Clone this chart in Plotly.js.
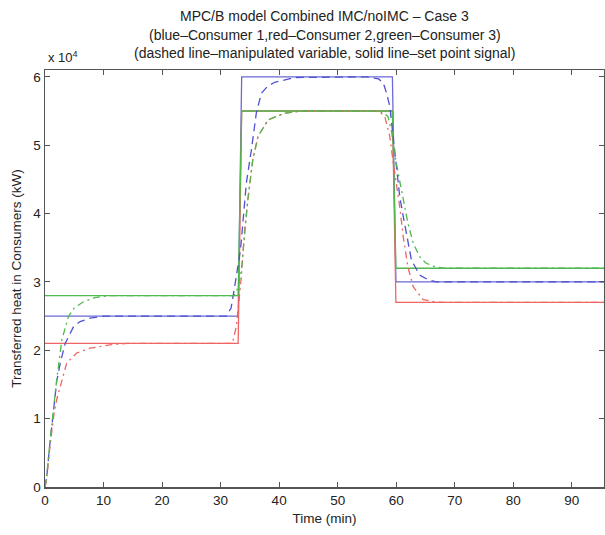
<!DOCTYPE html>
<html>
<head>
<meta charset="utf-8">
<script src="https://cdn.plot.ly/plotly-3.0.1.min.js"></script>
<style>
  html, body { margin: 0; padding: 0; background: #fff; }
  #chart { width: 605px; height: 535px; }
</style>
</head>
<body>
<div id="chart"></div>
<script>
// Heat delivered to three consumers, in units of 1e4 kW, versus time in minutes.

// Set point signals (solid lines)
const spTime      = [0, 33.0, 33.6, 59.35, 59.95, 95.5];
const spConsumer1 = [2.5, 2.5, 6.0, 6.0, 3.0, 3.0];
const spConsumer2 = [2.1, 2.1, 5.5, 5.5, 2.7, 2.7];
const spConsumer3 = [2.8, 2.8, 5.5, 5.5, 3.2, 3.2];

// Manipulated variable, consumer 1 (blue, dashed)
const mvTime1 = [0, 0.3, 0.8, 1.2, 1.5, 2.0, 2.6, 3.45, 4.9, 6.0, 7.7, 10,
                 31.0, 31.8, 32.4, 33.0, 33.4, 33.8, 34.1, 34.4, 35.26, 36.1, 36.97, 38.0, 39.25, 42.7,
                 55, 57.0, 57.8, 58.35, 58.9, 59.5, 60.0, 60.6, 61.2, 62.0, 62.6, 64.0, 65.5, 66.9, 95.5];
const mvConsumer1 = [0, 0.15, 0.6, 0.9, 1.2, 1.55, 1.81, 2.10, 2.35, 2.42, 2.47, 2.5,
                     2.5, 2.62, 2.93, 3.22, 3.47, 3.86, 4.2, 4.45, 4.93, 5.47, 5.76, 5.86, 5.92, 5.99,
                     6.0, 5.97, 5.91, 5.76, 5.57, 5.13, 4.7, 4.25, 3.96, 3.62, 3.32, 3.10, 3.03, 3.0, 3.0];

// Manipulated variable, consumer 2 (red, dash-dot)
const mvTime2 = [0, 0.3, 0.8, 1.2, 1.5, 2.0, 2.6, 3.7, 5.4, 7.7, 11.1, 14,
                 32.0, 32.7, 33.55, 33.8, 34.1, 34.6, 35.5, 36.4, 38.1, 41, 43.9,
                 56.5, 57.3, 58.05, 58.9, 59.5, 60.0, 60.6, 61.2, 62.0, 62.9, 64.6, 66.5, 68, 95.5];
const mvConsumer2 = [0, 0.14, 0.55, 0.85, 1.05, 1.28, 1.47, 1.81, 1.96, 2.03, 2.08, 2.1,
                     2.1, 2.35, 3.08, 3.47, 3.76, 4.15, 4.79, 5.13, 5.37, 5.47, 5.5,
                     5.5, 5.48, 5.42, 5.13, 4.74, 4.45, 4.1, 3.66, 3.22, 2.93, 2.74, 2.71, 2.7, 2.7];

// Manipulated variable, consumer 3 (green, dash-dot)
const mvTime3 = [0, 0.3, 0.8, 1.2, 1.6, 2.0, 2.87, 4.0, 5.0, 6.6, 8.5, 11.1,
                 32.3, 32.8, 33.3, 33.6, 33.9, 34.2, 34.7, 35.5, 36.4, 38.1, 41, 43.9,
                 57.0, 57.8, 58.6, 59.2, 59.8, 60.5, 61.2, 62.0, 62.9, 64.0, 65.0, 66.3, 68, 95.5];
const mvConsumer3 = [0, 0.17, 0.62, 0.95, 1.3, 1.57, 2.15, 2.49, 2.62, 2.71, 2.77, 2.8,
                     2.8, 2.88, 3.05, 3.2, 3.5, 3.8, 4.25, 4.79, 5.13, 5.37, 5.47, 5.5,
                     5.5, 5.47, 5.42, 5.2, 4.84, 4.52, 4.2, 3.86, 3.57, 3.37, 3.28, 3.23, 3.2, 3.2];

const xTicks = [0, 10, 20, 30, 40, 50, 60, 70, 80, 90];
const yTicks = [0, 1, 2, 3, 4, 5, 6];

const BLUE  = '#6a6ad8';
const RED   = '#f06464';
const GREEN = '#4fb84f';

function solid(x, y, color) {
  return { x, y, type: 'scatter', mode: 'lines', hoverinfo: 'skip',
           line: { color, width: 1.3 } };
}
function dashed(x, y, color, dash) {
  return { x, y, type: 'scatter', mode: 'lines', hoverinfo: 'skip',
           line: { color, width: 1.3, dash } };
}

const traces = [
  solid(spTime, spConsumer1, BLUE),
  solid(spTime, spConsumer2, RED),
  solid(spTime, spConsumer3, GREEN),
  dashed(mvTime1, mvConsumer1, '#5050d0', '8px,5px'),
  dashed(mvTime2, mvConsumer2, RED, '7px,4px,2px,4px'),
  dashed(mvTime3, mvConsumer3, GREEN, '7px,4px,2px,4px')
];

const FONT = 'Liberation Sans, Arial, Helvetica, sans-serif';
const TXT = '#222';

const axisCommon = {
  showgrid: false, zeroline: false,
  showline: true, linecolor: '#555', linewidth: 1.5,
  mirror: 'ticks', ticks: 'inside', ticklen: 5, tickcolor: '#555', tickwidth: 1,
  tickfont: { family: FONT, size: 13.5, color: TXT }
};

function titleLine(text, shift) {
  return { text, xref: 'paper', yref: 'paper', x: 0.5, y: 1, yshift: shift,
           showarrow: false, xanchor: 'center', yanchor: 'middle',
           font: { family: FONT, size: 14, color: TXT } };
}

const layout = {
  width: 605, height: 535,
  margin: { l: 45, r: 1, t: 70, b: 48 },
  paper_bgcolor: '#fff', plot_bgcolor: '#fff',
  showlegend: false,
  font: { family: FONT, color: TXT },
  xaxis: Object.assign({}, axisCommon, {
    range: [0, 95.5], tickvals: xTicks, ticktext: xTicks.map(String),
    title: { text: 'Time (min)', font: { family: FONT, size: 13.5, color: TXT }, standoff: 7 }
  }),
  yaxis: Object.assign({}, axisCommon, {
    range: [0, 6.1], tickvals: yTicks, ticktext: yTicks.map(String),
    title: { text: 'Transferred heat in Consumers (kW)', font: { family: FONT, size: 13.5, color: TXT }, standoff: 8 }
  }),
  annotations: [
    titleLine('MPC/B model Combined IMC/noIMC – Case 3', 54),
    titleLine('(blue–Consumer 1,red–Consumer 2,green–Consumer 3)', 35),
    titleLine('(dashed line–manipulated variable, solid line–set point signal)', 17),
    { text: 'x 10<sup>4</sup>', xref: 'paper', yref: 'paper',
      x: 0, y: 1, xshift: 1, yshift: 3, showarrow: false, xanchor: 'left', yanchor: 'bottom',
      font: { family: FONT, size: 13, color: TXT } }
  ]
};

Plotly.newPlot('chart', traces, layout, { displayModeBar: false, staticPlot: true });
</script>
</body>
</html>
